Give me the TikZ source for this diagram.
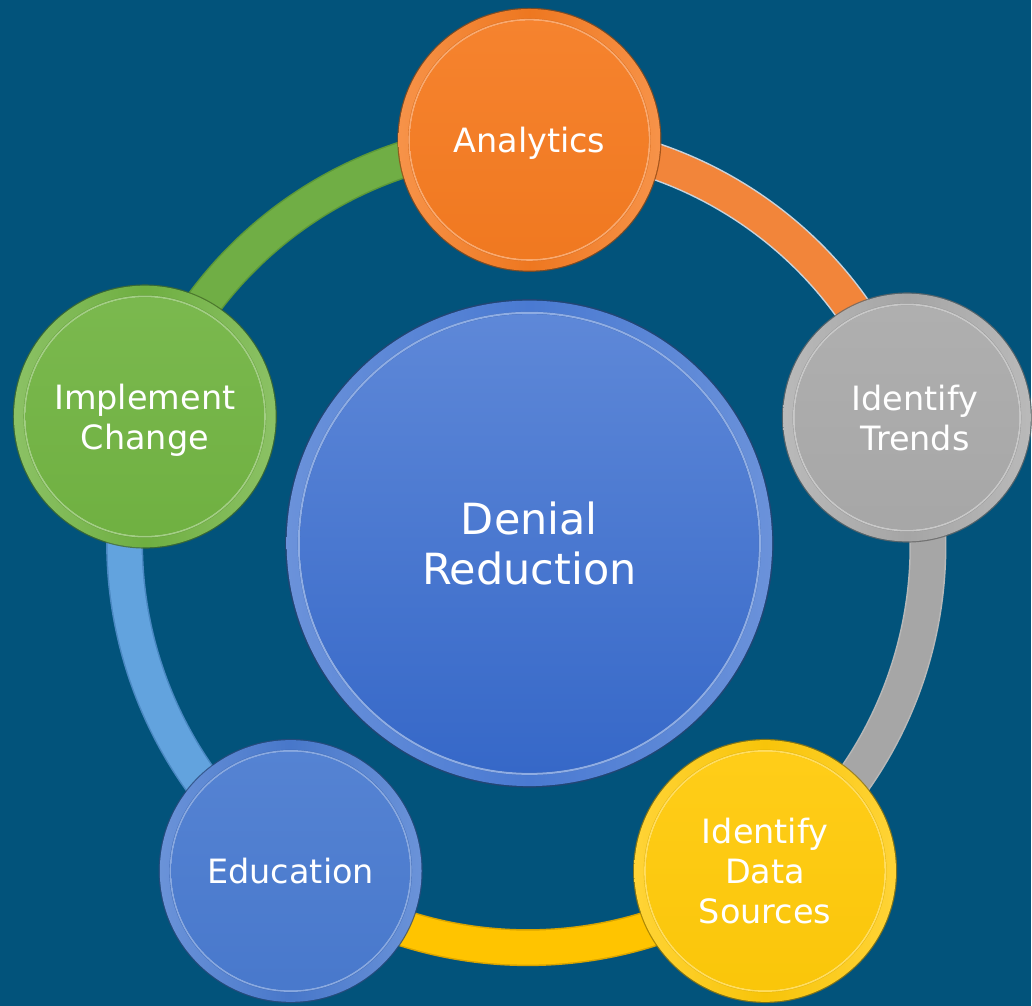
\documentclass[tikz,border=0pt]{standalone}
\usepackage{fontspec}
\setmainfont{DejaVu Sans}
\pgfdeclarelayer{back}
\pgfdeclarelayer{ring}
\pgfdeclarelayer{disc}
\pgfsetlayers{back,ring,disc,main}

% palette
\definecolor{bgblue}{HTML}{02537B}
\definecolor{cOrange}{HTML}{F57B21}
\definecolor{cGray}{HTML}{AAAAAA}
\definecolor{cYellow}{HTML}{FFCA0A}
\definecolor{cBlue}{HTML}{4A7BD0}
\definecolor{cGreen}{HTML}{72B443}
\definecolor{cCoreTop}{HTML}{5E88D8}
\definecolor{cCoreBot}{HTML}{3668C8}
\definecolor{cCore}{HTML}{4A7AD2}
% ring bands and their edges
\definecolor{bOrange}{HTML}{F2853A}
\definecolor{eOrange}{HTML}{C9D3DC}
\definecolor{bGray}{HTML}{A6A6A6}
\definecolor{eGray}{HTML}{B8B8B8}
\definecolor{bYellow}{HTML}{FFC400}
\definecolor{eYellow}{HTML}{D9A400}
\definecolor{bBlue}{HTML}{62A3DE}
\definecolor{eBlue}{HTML}{4A88C2}
\definecolor{bGreen}{HTML}{70AE45}
\definecolor{eGreen}{HTML}{5C9838}

\tikzset{
  bubble/.style={circle, minimum size=#1, inner sep=0pt, text=white,
    font=\fontsize{33.5}{40}\selectfont, align=center, text depth=0pt},
  core/.style={circle, minimum size=#1, inner sep=0pt, text=white,
    font=\fontsize{43}{50}\selectfont, align=center, text depth=0pt},
  band/.style 2 args={line width=34pt, draw=#1,
    preaction={draw=#2, line width=37pt}},
  arcto/.style={bend left=36, looseness=0.94},
}

% bevelled disc behind a named node: node, colour, radius
\newcommand\bevdisc[3]{%
  \fill[#2!60!black, opacity=0.8] (#1.center) circle ({#3+1.2});
  \shade[left color=#2!82!white, right color=#2!82!white, middle color=#2!97!black]
    (#1.center) circle (#3);
  \fill[#2!88!black] (#1.center) circle ({#3-9.5});
  \draw[#2!65!white, line width=1.8pt] (#1.center) circle ({#3-10.8});
  \shade[top color=#2!94!white, bottom color=#2!98!black]
    (#1.center) circle ({#3-11.7});
}

\begin{document}
\begin{tikzpicture}[x=1pt,y=1pt]
  \begin{pgfonlayer}{back}
    \fill[bgblue] (0,0) rectangle (1032,1007);
  \end{pgfonlayer}

  % cycle steps
  \node[bubble=262pt] (A) at (530,867) {Analytics};
  \node[bubble=248pt] (T) at (908,589) {\hspace*{16pt}Identify\\\hspace*{16pt}Trends};
  \node[bubble=262pt] (D) at (766,135) {Identify\\Data\\Sources};
  \node[bubble=262pt] (E) at (291,135) {Education};
  \node[bubble=262pt] (I) at (145,590) {Implement\\Change};
  % hub
  \node[core=486pt] (C) at (530,463) {Denial\\Reduction};

  \begin{pgfonlayer}{ring}
    \draw[band={bOrange}{eOrange}] (A.center) to[arcto] (T.center);
    \draw[band={bGray}{eGray}]     (T.center) to[arcto] (D.center);
    \draw[band={bYellow}{eYellow}] (D.center) to[arcto] (E.center);
    \draw[band={bBlue}{eBlue}]     (E.center) to[arcto] (I.center);
    \draw[band={bGreen}{eGreen}]   (I.center) to[arcto] (A.center);
  \end{pgfonlayer}

  \begin{pgfonlayer}{disc}
    \bevdisc{A}{cOrange}{131}
    \bevdisc{T}{cGray}{124}
    \bevdisc{D}{cYellow}{131}
    \bevdisc{E}{cBlue}{131}
    \bevdisc{I}{cGreen}{131}
    % hub disc
    \fill[cCore!55!black, opacity=0.8] (C.center) circle (244.5);
    \shade[left color=cCore!82!white, right color=cCore!82!white, middle color=cCore]
      (C.center) circle (243);
    \fill[cCore!88!black] (C.center) circle (232);
    \draw[cCore!62!white, line width=2pt] (C.center) circle (230.8);
    \shade[top color=cCoreTop, bottom color=cCoreBot] (C.center) circle (229.5);
  \end{pgfonlayer}
\end{tikzpicture}
\end{document}
